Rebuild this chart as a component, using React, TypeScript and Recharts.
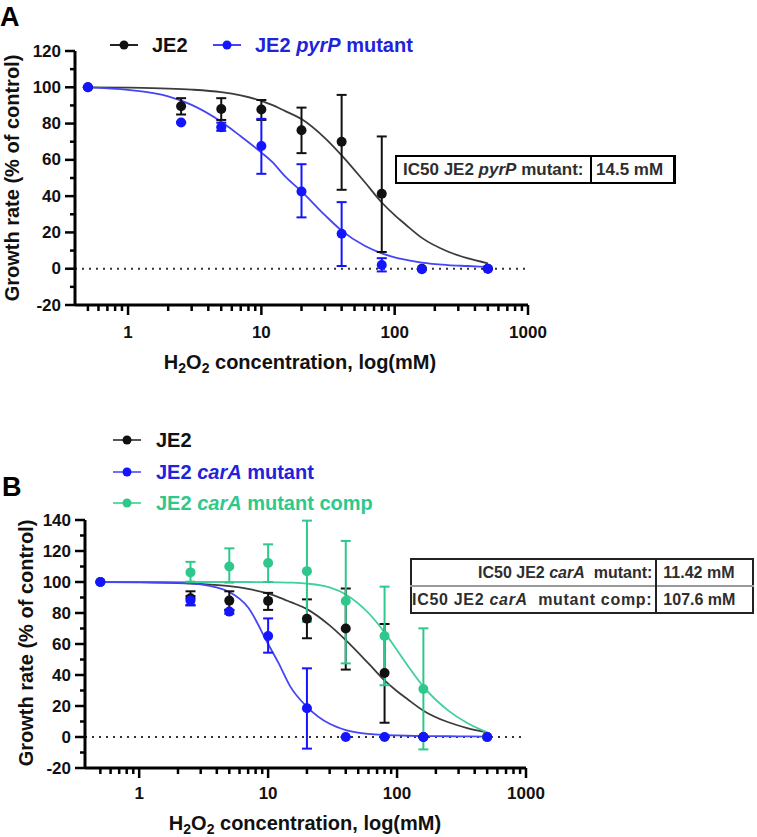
import React from "react";
import {
  ComposedChart,
  ErrorBar,
  Line,
  ReferenceLine,
  Scatter,
  XAxis,
  YAxis,
} from "recharts";

const FONT = "'Liberation Sans', Arial, Helvetica, sans-serif";

const BLACK = "#111111";
const BLACK_FIT = "#3c3c3c";
const BLUE = "#1414ff";
const BLUE_FIT = "#4545f5";
const BLUE_TEXT = "#2222dd";
const GREEN = "#2fc88c";
const GREEN_FIT = "#3fd09b";

// H2O2 doses (mM)
const doses = [0.5, 2.5, 5, 10, 20, 40, 80, 160, 500];

// Panel A – JE2
const je2Mean = [100, 89.5, 88, 87.8, 76.3, 70, 41.3, 0, 0];
const je2Lo = [100, 85, 82, 82, 63.7, 43.5, 9.2, 0, 0];
const je2Hi = [100, 94, 94, 93, 88.8, 95.8, 72.9, 0, 0];

// Panel A – JE2 pyrP mutant
const pyrPMean = [100, 80.6, 78, 67.6, 42.6, 19.3, 2, -0.3, 0];
const pyrPLo = [100, 80.6, 76, 52.3, 28.3, 1.5, -1.5, -0.3, 0];
const pyrPHi = [100, 80.6, 80.5, 82.6, 57.6, 36.7, 5.8, -0.3, 0];

// Panel B – JE2 carA mutant
const carAMean = [100, 88, 80.9, 65.2, 18.5, 0, 0, 0, 0];
const carALo = [100, 85, 79.5, 54.4, -7.5, 0, 0, 0, 0];
const carAHi = [100, 91, 82, 76.5, 44.3, 0, 0, 0, 0];

// Panel B – JE2 carA mutant comp
const compMean = [100, 106.2, 110, 112.3, 107, 87.7, 65.2, 31, 0];
const compLo = [100, 100.2, 99.6, 100, 74.4, 47.5, 33.4, -8, 0];
const compHi = [100, 113, 121.7, 124.3, 139.6, 126.5, 97, 70.1, 0];

// fitted curves
const fitDoses = [0.5, 1, 2, 3, 5, 7, 10, 12, 15, 20, 30, 40, 60, 80, 100, 120, 160, 250, 350, 500];
const je2Fit = [100, 99.8, 99.3, 98.7, 97.3, 95.5, 92.5, 90.3, 87, 82.5, 72, 62.5, 47.5, 36.5, 29.5, 24.5, 17, 9.5, 5.8, 3];
const pyrPFit = [100, 98.6, 95, 90.3, 81, 73, 64, 59, 51, 42.6, 29.5, 21, 12.5, 8.5, 6.3, 5, 3.3, 2, 1.5, 1];
const carAFit = [100, 99.9, 99.5, 98.5, 93.5, 83.5, 60, 48, 32, 19.5, 8.5, 4.5, 2, 1.3, 1, 0.8, 0.6, 0.5, 0.4, 0.3];
const compFit = [100, 100, 100, 100, 100, 100, 99.9, 99.8, 99.6, 99, 96.5, 92, 80, 67.5, 56, 46.5, 32.5, 17, 9, 3];

// axis ticks
const xTicks = [
  0.5, 0.6, 0.7, 0.8, 0.9, 1, 2, 3, 4, 5, 6, 7, 8, 9, 10, 20, 30, 40, 50, 60, 70, 80, 90,
  100, 200, 300, 400, 500, 600, 700, 800, 900, 1000,
];
const xMajor = [1, 10, 100, 1000];
const yTicksA = [-20, -10, 0, 10, 20, 30, 40, 50, 60, 70, 80, 90, 100, 110, 120];
const yTicksB = [-20, -10, 0, 10, 20, 30, 40, 50, 60, 70, 80, 90, 100, 110, 120, 130, 140];
const yMajor = [-20, 0, 20, 40, 60, 80, 100, 120, 140];

function points(mean: number[], lo: number[], hi: number[]) {
  return doses.map((x, i) => ({
    x,
    y: mean[i],
    err: [mean[i] - lo[i], hi[i] - mean[i]],
  }));
}

function curve(values: number[]) {
  return fitDoses.map((x, i) => ({ x, y: values[i] }));
}

const makeXTick = (labelDy: number) => (props: any) => {
  const { x, y, payload } = props;
  const major = xMajor.includes(payload.value);
  return (
    <g>
      <line x1={x} x2={x} y1={y} y2={y + (major ? 10 : 6)} stroke="#000" strokeWidth={2.5} />
      {major && (
        <text
          x={x}
          y={y + labelDy}
          textAnchor="middle"
          dominantBaseline="central"
          fontSize={17}
          fontWeight="bold"
          fill={BLACK}
          fontFamily={FONT}
        >
          {payload.value}
        </text>
      )}
    </g>
  );
};

const YTick = (props: any) => {
  const { x, y, payload } = props;
  const major = yMajor.includes(payload.value);
  return (
    <g>
      <line x1={x - (major ? 10 : 5)} x2={x} y1={y} y2={y} stroke="#000" strokeWidth={2.5} />
      {major && (
        <text
          x={x - 14}
          y={y}
          textAnchor="end"
          dominantBaseline="central"
          fontSize={17}
          fontWeight="bold"
          fill={BLACK}
          fontFamily={FONT}
        >
          {payload.value}
        </text>
      )}
    </g>
  );
};

const dot = (color: string) => (p: any) => <circle cx={p.cx} cy={p.cy} r={5} fill={color} />;

interface Series {
  name: string;
  color: string;
  fitColor: string;
  fit: { x: number; y: number }[];
  pts: { x: number; y: number; err: number[] }[];
}

function Panel({
  width,
  height,
  margin,
  yAxisWidth,
  xAxisHeight,
  xDomainMin,
  yTicks,
  labelDy,
  series,
}: {
  width: number;
  height: number;
  margin: { top: number; right: number; bottom: number; left: number };
  yAxisWidth: number;
  xAxisHeight: number;
  xDomainMin: number;
  yTicks: number[];
  labelDy: number;
  series: Series[];
}) {
  return (
    <ComposedChart width={width} height={height} margin={margin}>
      <XAxis
        dataKey="x"
        type="number"
        scale="log"
        domain={[xDomainMin, 1000]}
        allowDataOverflow
        ticks={xTicks}
        interval={0}
        tickSize={0}
        tickMargin={0}
        tickLine={false}
        height={xAxisHeight}
        axisLine={{ stroke: "#000", strokeWidth: 3 }}
        tick={makeXTick(labelDy)}
      />
      <YAxis
        type="number"
        domain={[yTicks[0], yTicks[yTicks.length - 1]]}
        allowDataOverflow
        ticks={yTicks}
        interval={0}
        tickSize={0}
        tickMargin={0}
        tickLine={false}
        width={yAxisWidth}
        axisLine={{ stroke: "#000", strokeWidth: 3 }}
        tick={YTick}
      />
      <ReferenceLine y={0} stroke="#333" strokeWidth={2} strokeDasharray="2 5" />
      {series.map((s) => (
        <Line
          key={s.name + "-fit"}
          data={s.fit}
          dataKey="y"
          type="monotone"
          stroke={s.fitColor}
          strokeWidth={1.8}
          dot={false}
          activeDot={false}
          isAnimationActive={false}
        />
      ))}
      {series.map((s) => (
        <Scatter
          key={s.name + "-pts"}
          data={s.pts}
          dataKey="y"
          fill={s.color}
          shape={dot(s.color)}
          isAnimationActive={false}
        >
          <ErrorBar dataKey="err" direction="y" width={5} strokeWidth={2} stroke={s.color} />
        </Scatter>
      ))}
    </ComposedChart>
  );
}

const LegendMark = ({ color, line }: { color: string; line: string }) => (
  <svg width={28} height={12} style={{ display: "block" }}>
    <line x1={0} x2={28} y1={6} y2={6} stroke={line} strokeWidth={2} />
    <circle cx={14} cy={6} r={4.5} fill={color} />
  </svg>
);

const legendText: React.CSSProperties = {
  position: "absolute",
  fontSize: 20,
  fontWeight: "bold",
  lineHeight: "24px",
  whiteSpace: "nowrap",
};

function AxisTitleX({ cx, cy }: { cx: number; cy: number }) {
  return (
    <div
      style={{
        position: "absolute",
        left: cx - 200,
        top: cy - 12,
        width: 400,
        height: 24,
        lineHeight: "24px",
        textAlign: "center",
        fontSize: 20,
        fontWeight: "bold",
        color: BLACK,
        whiteSpace: "nowrap",
      }}
    >
      H<span style={{ fontSize: 14, position: "relative", top: 4 }}>2</span>O
      <span style={{ fontSize: 14, position: "relative", top: 4 }}>2</span> concentration, log(mM)
    </div>
  );
}

function AxisTitleY({ cx, cy }: { cx: number; cy: number }) {
  return (
    <div
      style={{
        position: "absolute",
        left: cx - 150,
        top: cy - 12,
        width: 300,
        height: 24,
        lineHeight: "24px",
        textAlign: "center",
        fontSize: 20,
        fontWeight: "bold",
        color: BLACK,
        whiteSpace: "nowrap",
        transform: "rotate(-90deg)",
      }}
    >
      Growth rate (% of control)
    </div>
  );
}

const cell: React.CSSProperties = {
  fontSize: 16,
  fontWeight: "bold",
  color: "#2e2e2e",
  whiteSpace: "nowrap",
  lineHeight: "25px",
  padding: 0,
};

export default function App() {
  const je2Pts = points(je2Mean, je2Lo, je2Hi);

  const seriesA: Series[] = [
    { name: "JE2", color: BLACK, fitColor: BLACK_FIT, fit: curve(je2Fit), pts: je2Pts },
    { name: "pyrP", color: BLUE, fitColor: BLUE_FIT, fit: curve(pyrPFit), pts: points(pyrPMean, pyrPLo, pyrPHi) },
  ];
  const seriesB: Series[] = [
    { name: "JE2", color: BLACK, fitColor: BLACK_FIT, fit: curve(je2Fit), pts: je2Pts },
    { name: "comp", color: GREEN, fitColor: GREEN_FIT, fit: curve(compFit), pts: points(compMean, compLo, compHi) },
    { name: "carA", color: BLUE, fitColor: BLUE_FIT, fit: curve(carAFit), pts: points(carAMean, carALo, carAHi) },
  ];

  return (
    <div
      style={{
        position: "absolute",
        left: 0,
        top: 0,
        width: 757,
        height: 837,
        background: "#fff",
        fontFamily: FONT,
        overflow: "hidden",
      }}
    >
      {/* panel A */}
      <div style={{ position: "absolute", left: 0, top: 0 }}>
        <Panel
          width={757}
          height={420}
          margin={{ top: 51, right: 229, bottom: 55, left: 0 }}
          yAxisWidth={75}
          xAxisHeight={60}
          xDomainMin={0.4}
          yTicks={yTicksA}
          labelDy={27}
          series={seriesA}
        />
      </div>
      <div style={{ position: "absolute", left: 0, top: 2, fontSize: 27, fontWeight: "bold", lineHeight: "30px" }}>A</div>
      <div style={{ position: "absolute", left: 110, top: 39 }}>
        <LegendMark color={BLACK} line="#222" />
      </div>
      <div style={{ ...legendText, left: 152, top: 33, color: BLACK }}>JE2</div>
      <div style={{ position: "absolute", left: 213, top: 39 }}>
        <LegendMark color={BLUE} line={BLUE_FIT} />
      </div>
      <div style={{ ...legendText, left: 255, top: 33, color: BLUE_TEXT }}>
        JE2 <i>pyrP</i> mutant
      </div>
      <AxisTitleY cx={12} cy={178} />
      <AxisTitleX cx={300} cy={362} />
      <table
        style={{
          position: "absolute",
          left: 395,
          top: 155,
          width: 281,
          height: 27,
          borderCollapse: "collapse",
          border: "2px solid #000",
          borderRightWidth: 3,
          boxSizing: "border-box",
        }}
      >
        <tbody>
          <tr>
            <td style={{ ...cell, fontSize: 17, paddingLeft: 6, borderRight: "2px solid #000", width: 187 }}>
              IC50 JE2 <i>pyrP</i> mutant:
            </td>
            <td style={{ ...cell, fontSize: 17, paddingLeft: 4 }}>14.5 mM</td>
          </tr>
        </tbody>
      </table>

      {/* panel B */}
      <div style={{ position: "absolute", left: 0, top: 420 }}>
        <Panel
          width={757}
          height={417}
          margin={{ top: 100, right: 231, bottom: 0, left: 0 }}
          yAxisWidth={85}
          xAxisHeight={69}
          xDomainMin={0.38}
          yTicks={yTicksB}
          labelDy={25}
          series={seriesB}
        />
      </div>
      <div style={{ position: "absolute", left: 2, top: 472, fontSize: 27, fontWeight: "bold", lineHeight: "30px" }}>B</div>
      <div style={{ position: "absolute", left: 113, top: 434 }}>
        <LegendMark color={BLACK} line="#555" />
      </div>
      <div style={{ ...legendText, left: 156, top: 428, color: BLACK }}>JE2</div>
      <div style={{ position: "absolute", left: 113, top: 466 }}>
        <LegendMark color={BLUE} line="#7070ff" />
      </div>
      <div style={{ ...legendText, left: 156, top: 460, color: BLUE_TEXT }}>
        JE2 <i>carA</i> mutant
      </div>
      <div style={{ position: "absolute", left: 113, top: 497 }}>
        <LegendMark color={GREEN} line="#5fd8aa" />
      </div>
      <div style={{ ...legendText, left: 156, top: 491, color: GREEN }}>
        JE2 <i>carA</i> mutant comp
      </div>
      <AxisTitleY cx={26} cy={643} />
      <AxisTitleX cx={305} cy={823} />
      <table
        style={{
          position: "absolute",
          left: 410,
          top: 558,
          width: 344,
          height: 54,
          borderCollapse: "collapse",
          border: "2px solid #222",
          boxSizing: "border-box",
        }}
      >
        <tbody>
          <tr style={{ borderBottom: "2px solid #999" }}>
            <td style={{ ...cell, textAlign: "right", paddingRight: 3, borderRight: "2px solid #222", width: 239 }}>
              IC50 JE2 <i>carA</i>&nbsp; mutant:
            </td>
            <td style={{ ...cell, paddingLeft: 6 }}>11.42 mM</td>
          </tr>
          <tr>
            <td style={{ ...cell, textAlign: "right", paddingRight: 3, borderRight: "2px solid #222", letterSpacing: 0.7 }}>
              IC50 JE2 <i>carA</i>&nbsp; mutant comp:
            </td>
            <td style={{ ...cell, paddingLeft: 6 }}>107.6 mM</td>
          </tr>
        </tbody>
      </table>
    </div>
  );
}
